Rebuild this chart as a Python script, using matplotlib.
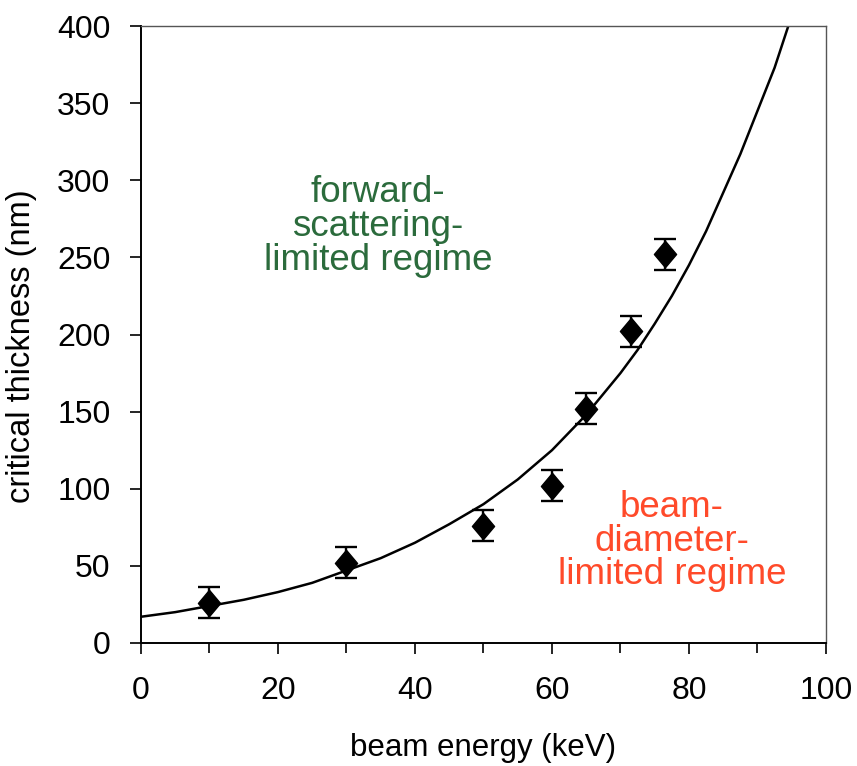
import numpy as np
import matplotlib
matplotlib.use('Agg')
import matplotlib.pyplot as plt

plt.rcParams['font.family'] = ['Liberation Sans', 'DejaVu Sans']

# measured points with error bars
energy = [10, 30, 50, 60, 65, 71.5, 76.5]
thickness = [26, 52, 76, 102, 152, 202, 252]
err = [10, 10, 10, 10, 10, 10, 10]

# fitted curve
curve_x = [0, 5, 10, 15, 20, 25, 30, 35, 40, 45, 50, 55, 60, 65, 70, 72.5, 75,
           77.5, 80, 82.5, 85, 87.5, 90, 92.5, 94.5]
curve_y = [17, 20, 24, 28, 33, 39, 47, 55, 65, 77, 90, 106, 125, 148, 175, 190, 207,
           225, 245, 267, 292, 317, 345, 373, 400]

green = '#2b6b3c'
orange = '#ff4a2a'

fig = plt.figure(figsize=(8.57, 7.66), dpi=100)
ax = fig.add_axes([0.1645, 0.1606, 0.7993, 0.8054])

ax.plot(curve_x, curve_y, color='black', lw=1.8, zorder=2)

diamond = [(0, 1), (0.84, 0), (0, -1), (-0.84, 0), (0, 1)]
ax.errorbar(energy, thickness, yerr=err, fmt='none', ecolor='black',
            elinewidth=1.7, capsize=8, capthick=1.7, zorder=3)
ax.plot(energy, thickness, linestyle='none', marker=diamond, markersize=19,
        color='black', zorder=4)

ax.text(34.6, 270, 'forward-\nscattering-\nlimited regime', color=green,
        fontsize=26.5, ha='center', va='center', multialignment='center',
        linespacing=0.95)
ax.text(77.5, 66, 'beam-\ndiameter-\nlimited regime', color=orange,
        fontsize=26.5, ha='center', va='center', multialignment='center',
        linespacing=0.95)

ax.set_xlim(0, 100)
ax.set_ylim(0, 400)
ax.set_xticks(range(0, 101, 20))
ax.set_xticks(range(10, 100, 20), minor=True)
ax.set_yticks(range(0, 401, 50))

ax.tick_params(axis='both', which='major', direction='out', length=8,
               width=1.2, labelsize=23, colors='black')
ax.tick_params(axis='x', which='minor', direction='out', length=7, width=1.2)
ax.tick_params(axis='x', which='major', pad=16)
ax.tick_params(axis='y', which='major', pad=14)

for s in ['left', 'bottom']:
    ax.spines[s].set_linewidth(1.4)
    ax.spines[s].set_color('black')
for s in ['top', 'right']:
    ax.spines[s].set_linewidth(1.0)
    ax.spines[s].set_color('#555555')

ax.set_xlabel('beam energy (keV)', fontsize=22.5)
ax.set_ylabel('critical thickness (nm)', fontsize=23.5)
ax.xaxis.set_label_coords(0.5, -0.146)
ax.yaxis.set_label_coords(-0.152, 0.481)

fig.savefig('out.png', dpi=100)
